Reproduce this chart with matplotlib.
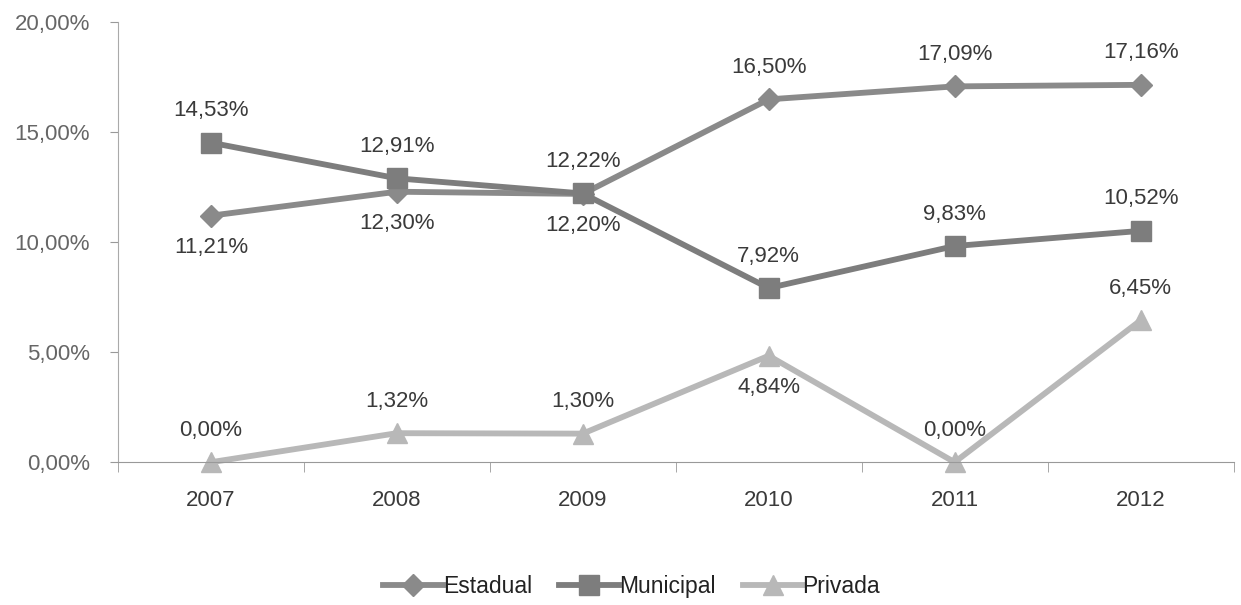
import matplotlib.pyplot as plt

years = ["2007", "2008", "2009", "2010", "2011", "2012"]
estadual = [11.21, 12.30, 12.20, 16.50, 17.09, 17.16]
municipal = [14.53, 12.91, 12.22, 7.92, 9.83, 10.52]
privada = [0.00, 1.32, 1.30, 4.84, 0.00, 6.45]

# label placement: 1 = above the point, -1 = below
est_pos = [-1, -1, -1, 1, 1, 1]
mun_pos = [1, 1, 1, 1, 1, 1]
pri_pos = [1, 1, 1, -1, 1, 1]

plt.rcParams["font.family"] = ["Liberation Sans", "DejaVu Sans"]

fig = plt.figure(figsize=(12.41, 6.05), dpi=100)
ax = fig.add_axes([0.095, 0.236, 0.899, 0.727])

x = list(range(len(years)))
series = [
    ("Estadual", estadual, est_pos, "#8a8a8a", "D", 11),
    ("Municipal", municipal, mun_pos, "#7d7d7d", "s", 14),
    ("Privada", privada, pri_pos, "#b8b8b8", "^", 14),
]

txt = "#3a3a3a"
for name, vals, pos, col, mk, ms in series:
    ax.plot(x, vals, color=col, lw=4.2, marker=mk, markersize=ms, label=name, clip_on=False)
    for xi, v, p in zip(x, vals, pos):
        ax.annotate(f"{v:.2f}%".replace(".", ","), (xi, v), xytext=(0, 23 * p),
                    textcoords="offset points", ha="center", va="center",
                    fontsize=16, color=txt)

ax.set_xlim(-0.5, 5.5)
ax.set_ylim(0, 20)
ax.set_yticks([0, 5, 10, 15, 20])
ax.set_yticklabels([f"{v:.2f}%".replace(".", ",") for v in [0, 5, 10, 15, 20]])
ax.set_xticks(x)
ax.set_xticklabels(years)
ax.set_xticks([i + 0.5 for i in range(-1, 6)], minor=True)
ax.tick_params(axis="x", which="major", length=0, pad=20, labelsize=16, labelcolor=txt)
ax.tick_params(axis="x", which="minor", length=7, color="#999999", direction="out")
ax.tick_params(axis="y", length=6, color="#999999", labelsize=16, labelcolor="#666666", pad=14)

for s in ["top", "right"]:
    ax.spines[s].set_visible(False)
ax.spines["left"].set_color("#aaaaaa")
ax.spines["bottom"].set_color("#999999")
ax.spines["bottom"].set_linestyle((0, (1, 1)))

fig.legend(loc="center", bbox_to_anchor=(0.509, 0.03), ncol=3, frameon=False,
           fontsize=16.5, handlelength=2.6, columnspacing=1.2, handletextpad=0.0,
           markerscale=1.0, labelcolor="#222222", borderpad=0)

fig.savefig("out.png", dpi=100)
